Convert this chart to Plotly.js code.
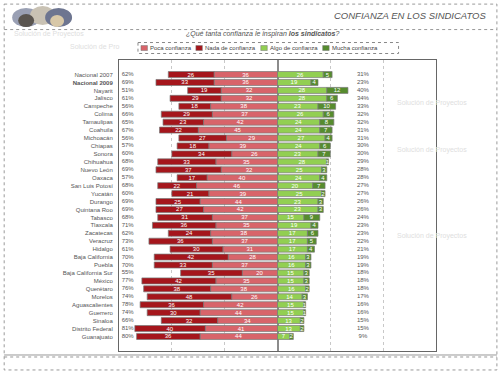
<!DOCTYPE html>
<html>
<head>
<meta charset="utf-8">
<script src="https://cdn.plot.ly/plotly-3.0.1.min.js"></script>
<style>html,body{margin:0;padding:0;background:#fff;}#chart{width:502px;height:377px;}</style>
</head>
<body>
<div id="chart"></div>
<script>
// ---- data ----
const states = ["Nacional 2007","<b>Nacional 2009</b>","Nayarit","Jalisco","Campeche","Colima","Tamaulipas","Coahuila","Michoacán","Chiapas","Sonora","Chihuahua","Nuevo León","Oaxaca","San Luis Potosí","Yucatán","Durango","Quintana Roo","Tabasco","Tlaxcala","Zacatecas","Veracruz","Hidalgo","Baja California","Puebla","Baja California Sur","México","Querétaro","Morelos","Aguascalientes","Guerrero","Sinaloa","Distrito Federal","Guanajuato"];
const nada  = [26,33,19,29,18,29,23,22,27,18,34,33,37,17,22,21,25,27,31,36,24,36,30,42,33,35,42,38,48,36,30,32,40,36];
const poca  = [36,36,32,32,38,37,42,45,29,39,26,35,32,40,46,39,44,42,37,35,38,37,31,28,37,20,35,38,26,42,44,34,41,44];
const algo  = [26,19,28,28,23,26,24,24,27,24,23,28,25,24,20,25,23,23,15,19,17,17,17,16,16,15,15,16,14,15,15,13,13,7];
const mucha = [5,4,12,6,10,6,8,7,4,6,7,1,3,4,7,2,3,3,9,4,6,5,4,3,3,3,3,2,3,1,1,2,2,2];
const seriesNames = ["Poca confianza","Nada de confianza","Algo de confianza","Mucha confianza"];
const seriesColors = ["#d8646a","#a5161c","#92cf52","#568c2e"];

const negTotal = states.map((s,i)=>nada[i]+poca[i]);
const posTotal = states.map((s,i)=>algo[i]+mucha[i]);

// ---- geometry helpers (pixel -> paper) ----
const PL=119, PR=436.5, PT=60, PB=351.5;
const X = px => (px-PL)/(PR-PL);
const Y = py => (PB-py)/(PB-PT);
const FAM = "Liberation Sans, Arial, sans-serif";

const barFont = {family:FAM, size:6, color:"#ffffff"};
const outline = {color:"#7a7a7a", width:0.7};

function barTrace(name, vals, sign, color){
  return {
    type:"bar", orientation:"h", name:name,
    y:states, x:vals.map(v=>sign*v), text:vals.map(String),
    textposition:"inside", insidetextanchor:"middle", textangle:0, textfont:barFont,
    marker:{color:color, line:outline},
    hoverinfo:"skip", cliponaxis:false, showlegend:false
  };
}

const traces = [
  barTrace(seriesNames[0], poca, -1, seriesColors[0]),
  barTrace(seriesNames[1], nada, -1, seriesColors[1]),
  barTrace(seriesNames[2], algo, 1, seriesColors[2]),
  barTrace(seriesNames[3], mucha, 1, seriesColors[3]),
  {type:"scatter", mode:"text", showlegend:false, hoverinfo:"skip",
   y:states, x:states.map(()=>-88.5), text:negTotal.map(v=>v+"%"),
   textposition:"middle right", textfont:{family:FAM, size:6, color:"#555"}, cliponaxis:false},
  {type:"scatter", mode:"text", showlegend:false, hoverinfo:"skip",
   y:states, x:states.map(()=>48.5), text:posTotal.map(v=>v+"%"),
   textposition:"middle center", textfont:{family:FAM, size:6, color:"#555"}, cliponaxis:false}
];

const wm = {family:FAM, size:7, color:"#dedede"};
function ann(text, px, py, opts){
  return Object.assign({text:text, xref:"paper", yref:"paper", x:X(px), y:Y(py), showarrow:false, xanchor:"left", yanchor:"middle", font:wm}, opts||{});
}

const annotations = [
  ann("Solución de Proyectos", 12, 34),
  ann("Solución de Pro", 68, 46),
  ann("Solución de Proyectos", 395, 103),
  ann("Solución de Proyectos", 395, 150),
  ann("Solución de Proyectos", 395, 236),
  ann("<i>¿Qué tanta confianza le inspiran </i><b><i>los sindicatos</i></b><i>?</i>", 263, 33.5,
      {xanchor:"center", font:{family:FAM, size:7, color:"#555"}}),
  ann("<i>CONFIANZA EN LOS SINDICATOS</i>", 490, 15,
      {xanchor:"right", font:{family:FAM, size:9.5, color:"#555"}})
];

const shapes = [
  {type:"rect", xref:"paper", yref:"paper", x0:X(4), x1:X(497.5), y0:Y(4), y1:Y(370.5), line:{color:"#999", width:1, dash:"dot"}, layer:"below"},
  {type:"line", xref:"paper", yref:"paper", x0:X(4), x1:X(497.5), y0:Y(29.5), y1:Y(29.5), line:{color:"#999", width:1, dash:"dot"}},
  {type:"line", xref:"paper", yref:"paper", x0:X(4), x1:X(497.5), y0:Y(355.5), y1:Y(355.5), line:{color:"#999", width:1}},
  {type:"line", xref:"paper", yref:"paper", x0:X(4), x1:X(497.5), y0:Y(357.5), y1:Y(357.5), line:{color:"#999", width:1, dash:"dot"}},
  // logo approximation
  {type:"circle", xref:"paper", yref:"paper", x0:X(12), x1:X(40), y0:Y(8), y1:Y(27), fillcolor:"#9aa0b4", line:{width:0}, layer:"below"},
  {type:"circle", xref:"paper", yref:"paper", x0:X(30), x1:X(55), y0:Y(6), y1:Y(25), fillcolor:"#c9c2b4", line:{width:0}, layer:"below"},
  {type:"circle", xref:"paper", yref:"paper", x0:X(45), x1:X(72), y0:Y(8), y1:Y(27), fillcolor:"#6d7590", line:{width:0}, layer:"below"},
  {type:"circle", xref:"paper", yref:"paper", x0:X(18), x1:X(34), y0:Y(14), y1:Y(27), fillcolor:"#5a5550", line:{width:0}, layer:"below"},
  {type:"circle", xref:"paper", yref:"paper", x0:X(50), x1:X(64), y0:Y(15), y1:Y(27), fillcolor:"#d8c8a8", line:{width:0}, layer:"below"},
  // legend box
  {type:"rect", xref:"paper", yref:"paper", x0:X(138), x1:X(399), y0:Y(42.5), y1:Y(53.5), fillcolor:"#ffffff", line:{color:"#888", width:1, dash:"dot"}}
];

// manual legend entries (swatch + label)
const legendX = [141, 196, 261, 323];
seriesNames.forEach((n,i)=>{
  shapes.push({type:"rect", xref:"paper", yref:"paper", x0:X(legendX[i]), x1:X(legendX[i]+6.5), y0:Y(45.5), y1:Y(50.5),
               fillcolor:seriesColors[i], line:{color:"#777", width:0.5}});
  annotations.push(ann(n, legendX[i]+7, 48, {font:{family:FAM, size:6, color:"#444"}}));
});

const layout = {
  width:502, height:377,
  margin:{l:PL, r:502-PR, t:PT, b:377-PB},
  paper_bgcolor:"#ffffff", plot_bgcolor:"#ffffff",
  barmode:"relative", bargap:0.24,
  font:{family:FAM, size:6, color:"#555"},
  showlegend:false,
  xaxis:{range:[-90,90], showticklabels:false, ticks:"", dtick:30, tick0:0,
         showgrid:true, gridcolor:"#c8c8c8", griddash:"dot", gridwidth:1,
         zeroline:true, zerolinecolor:"#8c8c8c", zerolinewidth:2,
         showline:true, mirror:true, linecolor:"#666", linewidth:1, fixedrange:true},
  yaxis:{type:"category", autorange:"reversed", ticks:"", showgrid:false, zeroline:false,
         showline:true, mirror:true, linecolor:"#666", linewidth:1,
         tickfont:{size:6, color:"#555"}, ticklabelstandoff:4, fixedrange:true},
  uniformtext:{mode:"show", minsize:6},
  annotations:annotations, shapes:shapes
};

Plotly.newPlot("chart", traces, layout, {staticPlot:true, displayModeBar:false});
</script>
</body>
</html>
